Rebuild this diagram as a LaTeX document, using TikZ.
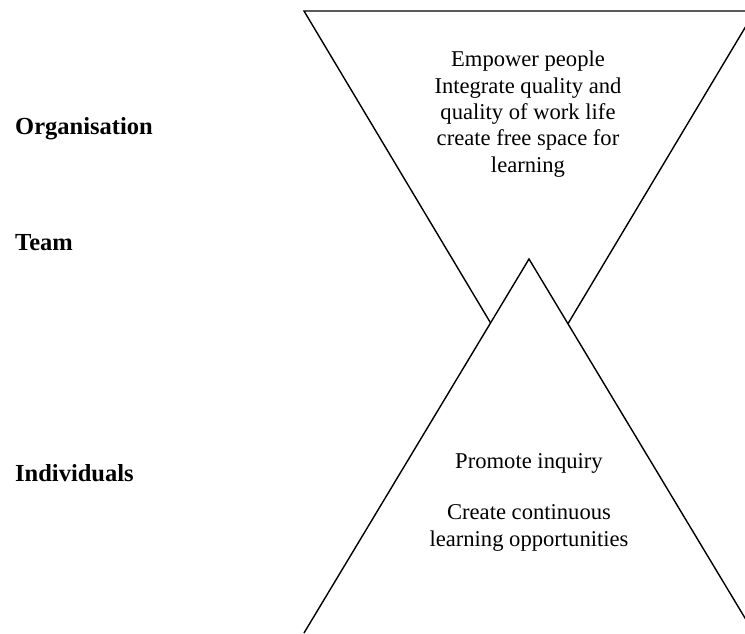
\documentclass[tikz,border=0pt]{standalone}
\usepackage{fontspec}
\setmainfont{Liberation Serif}
\tikzset{level/.style={font=\fontsize{24.5}{28}\selectfont\bfseries, anchor=base west, inner sep=0pt},
    blurb/.style={font=\fontsize{22.6}{26.3}\selectfont, align=center, anchor=north, inner sep=0pt},
    edge/.style={line width=1.4pt, line join=miter},
}
\begin{document}
\begin{tikzpicture}[x=1pt, y=-1pt]
\clip (0,0) rectangle (745,633);
\fill[white] (0,0) rectangle (745,633);
% funnel (organisation)
\coordinate (tl) at (304,11);
\coordinate (tr) at (755,11);
\coordinate (tb) at (529.5,388);
\draw[edge] (tb) -- (tl) -- (tr) -- cycle;
% pyramid (individuals)
\coordinate (pa) at (529,259);
\coordinate (pl) at (304,633);
\coordinate (pr) at (754,633);
\fill[white] (pl) -- (pa) -- (pr) -- cycle;
\draw[edge] (pl) -- (pa) -- (pr);
% levels
\node[level] (org) at (15,134) {Organisation};
\node[level] (team) at (15,250) {Team};
\node[level] (ind) at (15,481) {Individuals};
% texts
\node[blurb] (top) at (528,51) {Empower people\\Integrate quality and\\quality of work life\\create free space for\\learning};
\node[blurb] (inq) at (529,453) {Promote inquiry};
\node[blurb, font=\fontsize{22.6}{27.8}\selectfont] (cont) at (529,504) {Create continuous\\learning opportunities};
\end{tikzpicture}
\end{document}
